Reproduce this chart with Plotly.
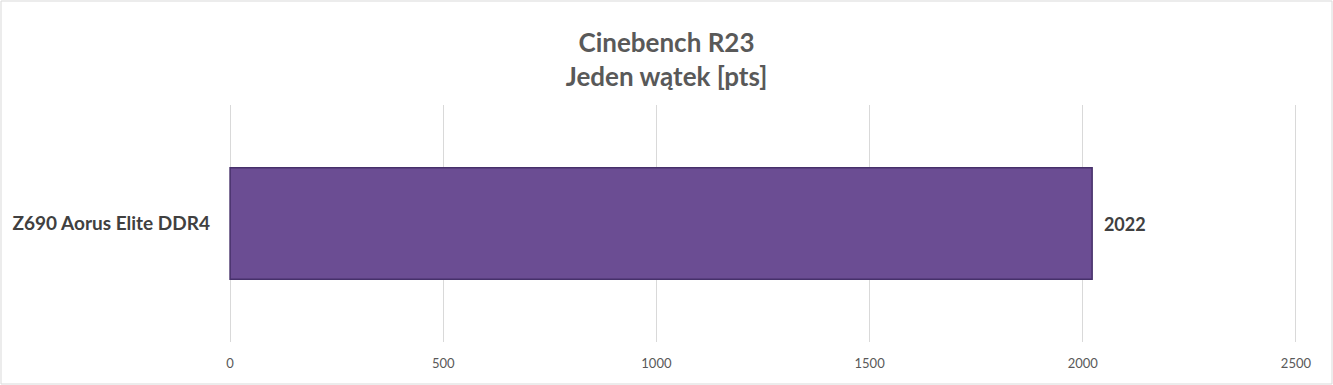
import plotly.graph_objects as go

categories = ["Z690 Aorus Elite DDR4"]
values = [2022]
tick_vals = [0, 500, 1000, 1500, 2000, 2500]
title_lines = ["Cinebench R23", "Jeden wątek [pts]"]

W, H = 1333, 385
ml, mr, mt, mb = 230, 37, 105, 43

fig = go.Figure()
fig.add_trace(go.Bar(
    y=categories, x=values, orientation="h",
    width=0.47,
    marker=dict(color="#6b4d93", line=dict(color="#46306a", width=1.5)),
    text=["  " + str(v) for v in values],
    textposition="outside",
    textfont=dict(family="Lato", size=18, color="#404040", weight="bold"),
    cliponaxis=False,
))

fig.update_layout(
    width=W, height=H,
    margin=dict(l=ml - 1, r=mr - 1, t=mt, b=mb),
    paper_bgcolor="white", plot_bgcolor="white",
    title=dict(text="<b>" + "<br>".join(title_lines) + "</b>",
               x=0.5, xanchor="center", y=0.865, yanchor="middle",
               font=dict(family="Lato", size=26, color="#595959")),
    showlegend=False,
    xaxis=dict(range=[-2.5, 2502.5], tickvals=tick_vals, showgrid=True,
               gridcolor="#d9d9d9", gridwidth=1, zeroline=False,
               showline=False, ticks="", ticklabelstandoff=12,
               tickfont=dict(family="Lato", size=13, color="#595959")),
    yaxis=dict(range=[-0.5, 0.5], showgrid=False, zeroline=False,
               showline=False, ticks="", ticklabelstandoff=18,
               tickfont=dict(family="Lato", size=19, color="#404040", weight="bold")),
    shapes=[dict(type="rect", xref="paper", yref="paper",
                 x0=-(ml - 2) / (W - ml - mr + 2), x1=1 + (mr - 2) / (W - ml - mr + 2),
                 y0=-(mb - 1) / (H - mt - mb), y1=1 + (mt - 1) / (H - mt - mb),
                 line=dict(color="#d9d9d9", width=1), layer="below")],
)

fig.write_html("out.html")
